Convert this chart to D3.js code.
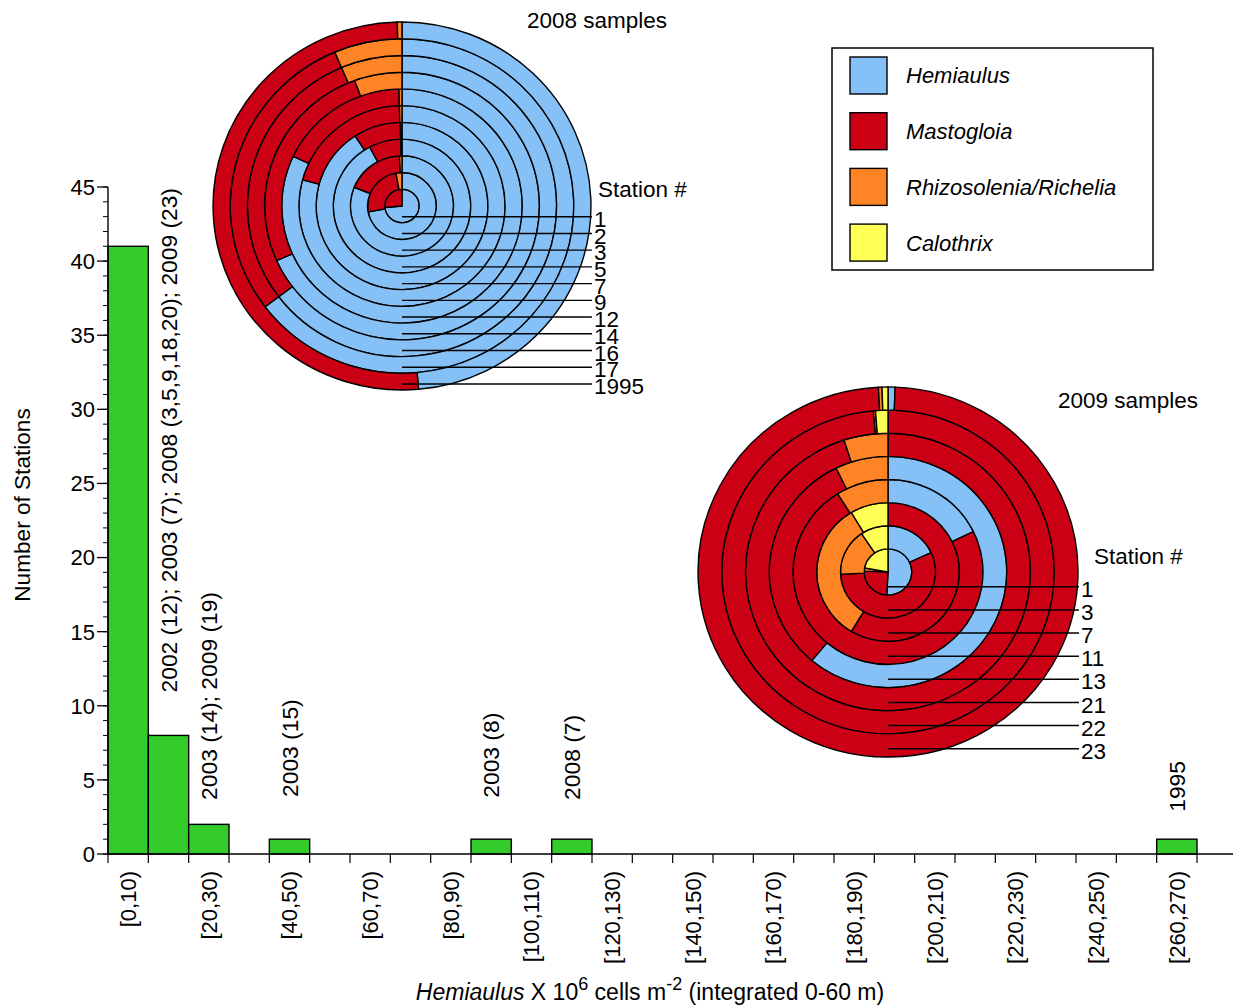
<!DOCTYPE html>
<html><head><meta charset="utf-8">
<script src="https://cdn.jsdelivr.net/npm/d3@7"></script>
<style>
body{margin:0;background:#fff;}
svg{display:block;font-family:"Liberation Sans",Arial,Helvetica,sans-serif;}
</style></head><body>
<svg id="c" width="1233" height="1005"></svg>
<script>
// ---------- histogram data ----------
const binStarts = [0,10,20,30,40,50,60,70,80,90,100,110,120,130,140,150,160,170,180,190,200,210,220,230,240,250,260];
const stationCounts = [41,8,2,0,1,0,0,0,0,1,0,1,0,0,0,0,0,0,0,0,0,0,0,0,0,0,1];
const labeledBins = [0,20,40,60,80,100,120,140,160,180,200,220,240,260];
const yTickValues = [0,5,10,15,20,25,30,35,40,45];
const annoBins = [10,20,40,90,110,260];
const annoTexts = ["2002 (12); 2003 (7); 2008 (3,5,9,18,20); 2009 (23)","2003 (14); 2009 (19)","2003 (15)","2003 (8)","2008 (7)","1995"];
const annoAt = [10.9,3.65,3.85,3.8,3.65,2.85];

// ---------- pie data (% of each ring) ----------
const species = ["Hemiaulus","Mastogloia","Rhizosolenia/Richelia","Calothrix"];
const stations2008 = ["1","2","3","5","7","9","12","14","16","17","1995"];
const hemi2008  = [73.6,72.2,81.1,92.2,90.8,79.2,81.9,68.3,64.7,64.7,48.6];
const masto2008 = [26.4,25.0,18.1,7.5,8.9,20.4,17.6,26.1,28.9,28.9,51.0];
const rhizo2008 = [0,2.8,0.8,0.3,0.3,0.4,0.4,5.6,6.4,6.4,0.4];
const calo2008  = [0,0,0,0,0,0,0,0,0,0,0];
const stations2009 = ["1","3","7","11","13","21","22","23"];
const hemi2009  = [50.8,18.1,0,17.8,61.1,0,0,0.6];
const masto2009 = [24.7,56.1,58.6,73.3,31.7,95.0,98.6,98.6];
const rhizo2009 = [2.2,16.4,32.8,8.9,7.2,5.0,0.2,0.3];
const calo2009  = [22.2,9.4,8.6,0,0,0,1.2,0.5];

const colors = ["#85C1F6","#CC0015","#FF8425","#FFFF55"];
const barColor = "#33CC2B";

const svg = d3.select("#c");

// ---------- histogram ----------
const x = d3.scaleLinear().domain([0,270]).range([108,1197]);
const y = d3.scaleLinear().domain([0,45]).range([854,187]);

svg.append("g").selectAll("rect")
  .data(binStarts.map((b,i)=>({b,c:stationCounts[i]})).filter(d=>d.c>0))
  .join("rect")
  .attr("x",d=>x(d.b)).attr("width",d=>x(d.b+10)-x(d.b))
  .attr("y",d=>y(d.c)).attr("height",d=>y(0)-y(d.c))
  .attr("fill",barColor).attr("stroke","#000").attr("stroke-width",1.4);

// x axis
const gx = svg.append("g");
gx.append("line").attr("x1",x(0)).attr("x2",1233).attr("y1",y(0)).attr("y2",y(0)).attr("stroke","#000").attr("stroke-width",1.4);
gx.selectAll("line.t").data(binStarts.concat([270])).join("line").attr("class","t")
  .attr("x1",d=>x(d)).attr("x2",d=>x(d)).attr("y1",y(0)).attr("y2",y(0)+9)
  .attr("stroke","#000").attr("stroke-width",1.2);
gx.selectAll("text").data(labeledBins).join("text")
  .attr("transform",d=>`translate(${x(d+5)},871) rotate(-90)`)
  .attr("text-anchor","end").attr("dy","0.36em")
  .attr("font-size",22).text(d=>`[${d},${d+10})`);

// y axis
const gy = svg.append("g");
gy.append("line").attr("x1",x(0)).attr("x2",x(0)).attr("y1",y(0)).attr("y2",y(45)).attr("stroke","#000").attr("stroke-width",1.4);
gy.selectAll("line.m").data(d3.range(0,46)).join("line").attr("class","m")
  .attr("x1",x(0)-5).attr("x2",x(0)).attr("y1",d=>y(d)).attr("y2",d=>y(d))
  .attr("stroke","#000").attr("stroke-width",1);
gy.selectAll("line.M").data(yTickValues).join("line").attr("class","M")
  .attr("x1",x(0)-11).attr("x2",x(0)).attr("y1",d=>y(d)).attr("y2",d=>y(d))
  .attr("stroke","#000").attr("stroke-width",1.3);
gy.selectAll("text").data(yTickValues).join("text")
  .attr("x",95).attr("y",d=>y(d)).attr("dy","0.36em").attr("text-anchor","end")
  .attr("font-size",22).text(d=>d);

svg.append("text").attr("transform","translate(22,505) rotate(-90)")
  .attr("text-anchor","middle").attr("dy","0.36em").attr("font-size",22.6).text("Number of Stations");

const xt = svg.append("text").attr("x",650).attr("y",1000).attr("text-anchor","middle").attr("font-size",23);
xt.append("tspan").attr("font-style","italic").text("Hemiaulus");
xt.append("tspan").text(" X 10");
xt.append("tspan").attr("font-size",18).attr("dy",-10).text("6");
xt.append("tspan").attr("dy",10).text(" cells m");
xt.append("tspan").attr("font-size",18).attr("dy",-10).text("-2");
xt.append("tspan").attr("dy",10).text(" (integrated 0-60 m)");

// annotations
svg.append("g").selectAll("text").data(annoTexts).join("text")
  .attr("transform",(d,i)=>`translate(${x(annoBins[i]+5)},${y(annoAt[i])}) rotate(-90)`)
  .attr("text-anchor","start").attr("dy","0.36em").attr("font-size",22.8).text(d=>d);

// ---------- ring pies ----------
function drawRings(cx, cy, ry, sx, stations, series, title, titleX, titleY, stLabelX, stLabelY) {
  const g = svg.append("g");
  const n = stations.length;
  const w = ry / n;
  const pg = g.append("g").attr("transform",`translate(${cx},${cy}) scale(${sx},1)`);
  const pie = d3.pie().sort(null).value(d=>d.v);
  stations.forEach((s,i)=>{
    const vals = series.map((arr,k)=>({k,v:arr[i]}));
    const arc = d3.arc().innerRadius(i*w).outerRadius((i+1)*w);
    pg.append("g").selectAll("path")
      .data(pie(vals).filter(d=>d.data.v>0))
      .join("path")
      .attr("d",arc).attr("fill",d=>colors[d.data.k])
      .attr("stroke","#000").attr("stroke-width",1.4).attr("vector-effect","non-scaling-stroke");
  });
  const rx = ry*sx;
  stations.forEach((s,i)=>{
    const ly = cy + (i+0.64)*w;
    g.append("line").attr("x1",cx).attr("x2",cx+rx+1).attr("y1",ly).attr("y2",ly)
      .attr("stroke","#000").attr("stroke-width",1.4);
    g.append("text").attr("x",cx+rx+3).attr("y",ly+2).attr("dy","0.36em")
      .attr("font-size",22.5).text(s);
  });
  g.append("text").attr("x",stLabelX).attr("y",stLabelY).attr("dy","0.36em").attr("font-size",22.5).text("Station #");
  g.append("text").attr("x",titleX).attr("y",titleY).attr("dy","0.36em").attr("text-anchor","middle").attr("font-size",22.5).text(title);
}

drawRings(402, 206, 184, 1.027, stations2008, [hemi2008,masto2008,rhizo2008,calo2008], "2008 samples", 597, 20, 598, 189);
drawRings(888, 572, 185, 1.027, stations2009, [hemi2009,masto2009,rhizo2009,calo2009], "2009 samples", 1128, 400, 1094, 556);

// ---------- legend ----------
const lg = svg.append("g");
lg.append("rect").attr("x",832).attr("y",48).attr("width",321).attr("height",222)
  .attr("fill","#fff").attr("stroke","#000").attr("stroke-width",1.5);
species.forEach((sp,i)=>{
  const yy = 57 + i*55.7;
  lg.append("rect").attr("x",850).attr("y",yy).attr("width",37).attr("height",37)
    .attr("fill",colors[i]).attr("stroke","#000").attr("stroke-width",1.4);
  lg.append("text").attr("x",906).attr("y",yy+18.5).attr("dy","0.36em")
    .attr("font-size",22).attr("font-style","italic").text(sp);
});
</script>
</body></html>
